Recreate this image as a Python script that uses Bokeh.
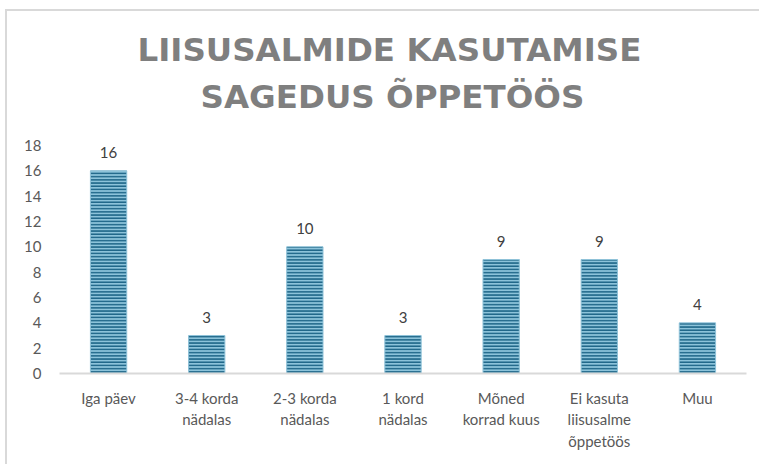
from bokeh.plotting import figure
from bokeh.models import ColumnDataSource, FixedTicker, Range1d, LabelSet, Title
from bokeh.core.properties import value
from bokeh.embed import file_html
from bokeh.resources import INLINE

categories = ["Iga päev", "3-4 korda\nnädalas", "2-3 korda\nnädalas", "1 kord\nnädalas",
              "Mõned\nkorrad kuus", "Ei kasuta\nliisusalme\nõppetöös", "Muu"]
counts = [16, 3, 10, 3, 9, 9, 4]
y_ticks = [0, 2, 4, 6, 8, 10, 12, 14, 16, 18]
title_lines = ["LIISUSALMIDE KASUTAMISE", "SAGEDUS ÕPPETÖÖS"]

xs = list(range(len(categories)))
src = ColumnDataSource(dict(x=xs, top=counts, lab=[str(c) for c in counts]))

p = figure(width=754, height=455, output_backend="svg", toolbar_location=None, title=None,
           x_range=Range1d(-0.5, len(categories) - 0.5), y_range=Range1d(0, 18),
           min_border_left=52, min_border_right=15, min_border_top=134, min_border_bottom=93,
           margin=(9, 0, 0, 5),
           styles={"border-left": "2px solid #d9d9d9", "border-top": "2px solid #d9d9d9"})

# spacer between plot frame and title
p.add_layout(Title(text=" ", text_font_size="1px", standoff=24), "above")

def add_title_line(txt, standoff, offset):
    t = Title(text=txt, align="left", text_font="DejaVu Sans", text_font_style="bold",
              text_font_size="32.5px", text_color="#7f7f7f", offset=offset, standoff=standoff)
    p.add_layout(t, "above")

add_title_line(title_lines[1], 6, 141)
add_title_line(title_lines[0], 8, 78)

p.vbar(x="x", top="top", width=0.37, source=src,
       fill_color="#8cc3da", line_color="#8fc2d8", line_width=1,
       hatch_pattern="horizontal_line", hatch_color="#1f6789",
       hatch_scale=3.2, hatch_weight=1.8)

labels = LabelSet(x="x", y="top", text="lab", source=src, text_align="center",
                  text_baseline="bottom", y_offset=13, text_font=value("Lato"),
                  text_font_size=value("15px"), text_color="#404040")
p.add_layout(labels)

p.xgrid.visible = False
p.ygrid.visible = False
p.outline_line_color = None

p.yaxis.ticker = FixedTicker(ticks=y_ticks)
p.yaxis.axis_line_color = None
p.yaxis.major_tick_line_color = None
p.yaxis.minor_tick_line_color = None
p.yaxis.major_label_text_font = "Lato"
p.yaxis.major_label_text_font_size = "15px"
p.yaxis.major_label_text_color = "#595959"
p.yaxis.major_label_standoff = 12

p.xaxis.ticker = FixedTicker(ticks=xs)
p.xaxis.major_label_overrides = {i: c for i, c in zip(xs, categories)}
p.xaxis.axis_line_color = "#d9d9d9"
p.xaxis.axis_line_width = 2
p.xaxis.major_tick_line_color = None
p.xaxis.minor_tick_line_color = None
p.xaxis.major_label_text_font = "Lato"
p.xaxis.major_label_text_font_size = "15px"
p.xaxis.major_label_text_color = "#595959"
p.xaxis.major_label_standoff = 9

open("out.html", "w").write(file_html(p, INLINE))
